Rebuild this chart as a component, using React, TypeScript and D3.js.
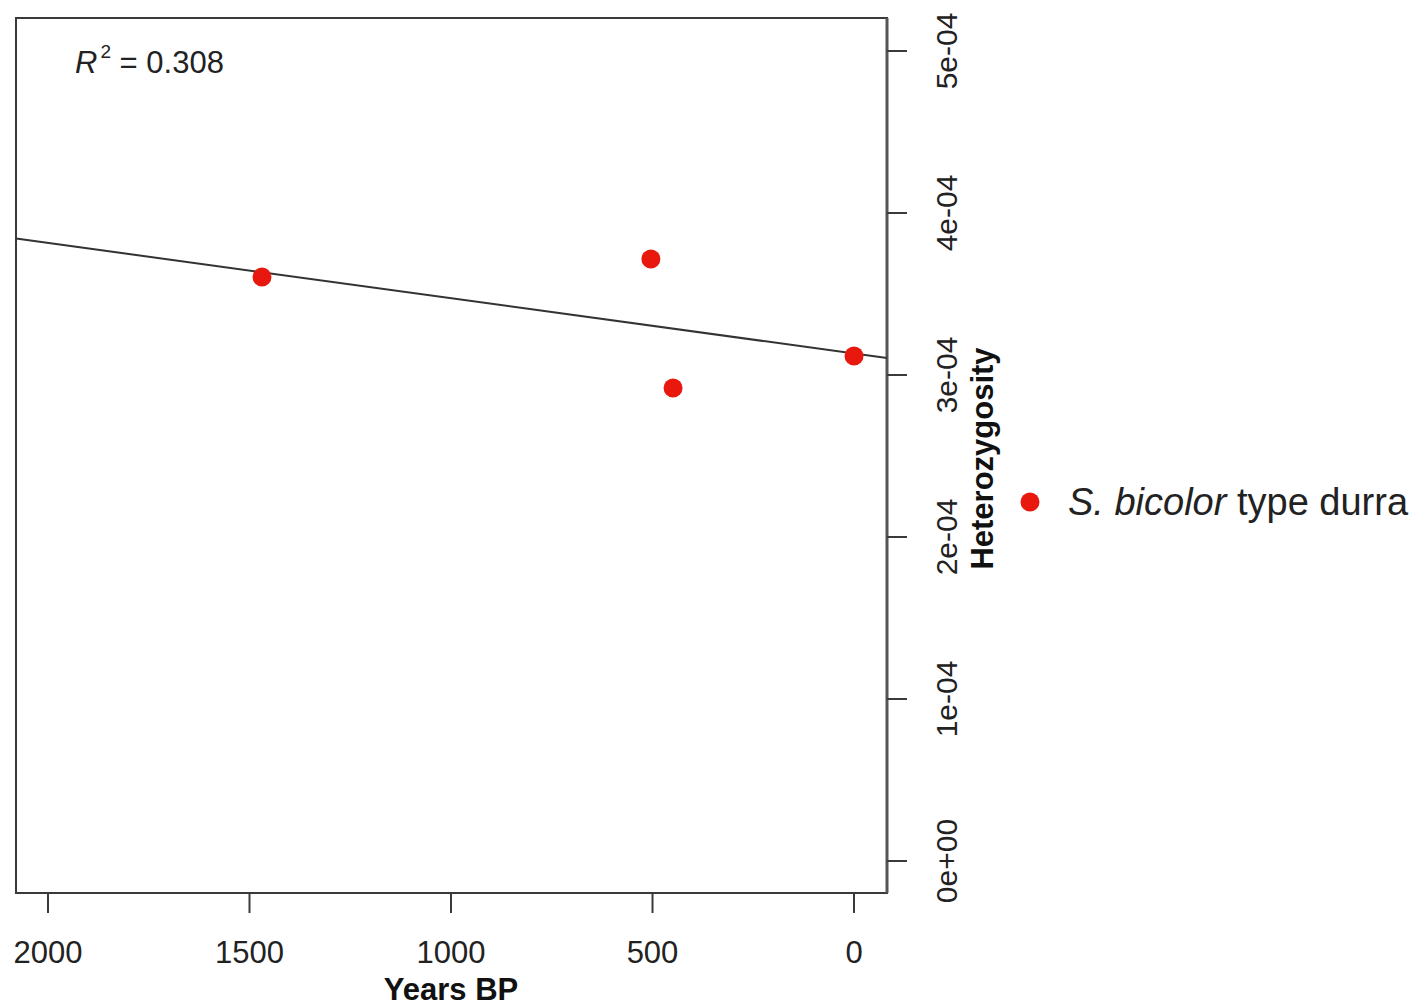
import React from "react";
import * as d3 from "d3";

const years = [1469, 504, 449, 0];
const heterozygosity = [3.605e-4, 3.716e-4, 2.92e-4, 3.117e-4];
const xTicks = [2000, 1500, 1000, 500, 0];
const yTicks = [0, 1e-4, 2e-4, 3e-4, 4e-4, 5e-4];
const yTickLabels = ["0e+00", "1e-04", "2e-04", "3e-04", "4e-04", "5e-04"];
const r2Label = "0.308";
const seriesName = ["S. bicolor", " type durra"];

const W = 1418;
const H = 1006;
const box = { left: 16, right: 887, top: 18, bottom: 893 };

export default function App() {
  const x = d3.scaleLinear().domain([2000, 0]).range([48, 854]);
  const y = d3.scaleLinear().domain([0, 5e-4]).range([861, 51]);

  // least-squares fit
  const mx = d3.mean(years)!;
  const my = d3.mean(heterozygosity)!;
  let sxy = 0, sxx = 0;
  years.forEach((v, i) => {
    sxy += (v - mx) * (heterozygosity[i] - my);
    sxx += (v - mx) * (v - mx);
  });
  const slope = sxy / sxx;
  const intercept = my - slope * mx;
  const xl = x.invert(box.left);
  const xr = x.invert(box.right);
  const line = d3.line<[number, number]>().x((d) => x(d[0])).y((d) => y(d[1]));
  const fitPts: [number, number][] = [
    [xl, intercept + slope * xl],
    [xr, intercept + slope * xr],
  ];

  const font = "'Liberation Sans', Arial, Helvetica, sans-serif";
  const axisColor = "#3a3a3a";
  const red = "#e8180e";

  return (
    <svg
      width={W}
      height={H}
      style={{ position: "absolute", left: 0, top: 0, background: "#fff" }}
      fontFamily={font}
    >
      <defs>
        <clipPath id="plotclip">
          <rect x={box.left} y={box.top} width={box.right - box.left} height={box.bottom - box.top} />
        </clipPath>
      </defs>
      <rect
        x={box.left}
        y={box.top}
        width={box.right - box.left}
        height={box.bottom - box.top}
        fill="none"
        stroke={axisColor}
        strokeWidth={2}
      />
      <line x1={box.right} x2={box.right} y1={box.top} y2={box.bottom} stroke="#555" strokeWidth={3} />
      {/* x axis ticks */}
      {xTicks.map((t) => (
        <g key={t}>
          <line x1={x(t)} x2={x(t)} y1={box.bottom} y2={box.bottom + 20} stroke={axisColor} strokeWidth={2} />
          <text x={x(t)} y={963} textAnchor="middle" fontSize={31} fill="#222">
            {t}
          </text>
        </g>
      ))}
      <text x={451} y={1000} textAnchor="middle" fontSize={31} fontWeight="bold" fill="#111">
        Years BP
      </text>
      {/* y axis right */}
      {yTicks.map((t, i) => (
        <g key={t}>
          <line x1={box.right} x2={box.right + 20} y1={y(t)} y2={y(t)} stroke={axisColor} strokeWidth={2} />
          <text
            transform={`translate(957,${y(t)}) rotate(-90)`}
            textAnchor="middle"
            fontSize={30}
            fill="#222"
          >
            {yTickLabels[i]}
          </text>
        </g>
      ))}
      <text
        transform={`translate(993,${(box.top + box.bottom) / 2 + 3}) rotate(-90)`}
        textAnchor="middle"
        fontSize={31}
        fontWeight="bold"
        fill="#111"
      >
        Heterozygosity
      </text>
      {/* regression line */}
      <path d={line(fitPts)!} stroke="#333" strokeWidth={2} fill="none" clipPath="url(#plotclip)" />
      {/* points */}
      {years.map((v, i) => (
        <circle key={i} cx={x(v)} cy={y(heterozygosity[i])} r={9.5} fill={red} />
      ))}
      {/* R2 */}
      <text x={75} y={73} fontSize={31} fill="#222">
        <tspan fontStyle="italic">R</tspan>
        <tspan fontSize={19} dy={-15} dx={3}>2</tspan>
        <tspan dy={15}>{" = " + r2Label}</tspan>
      </text>
      {/* legend */}
      <circle cx={1030} cy={502} r={9.5} fill={red} />
      <text x={1068} y={515} fontSize={38} fill="#222">
        <tspan fontStyle="italic">{seriesName[0]}</tspan>
        <tspan>{seriesName[1]}</tspan>
      </text>
    </svg>
  );
}
